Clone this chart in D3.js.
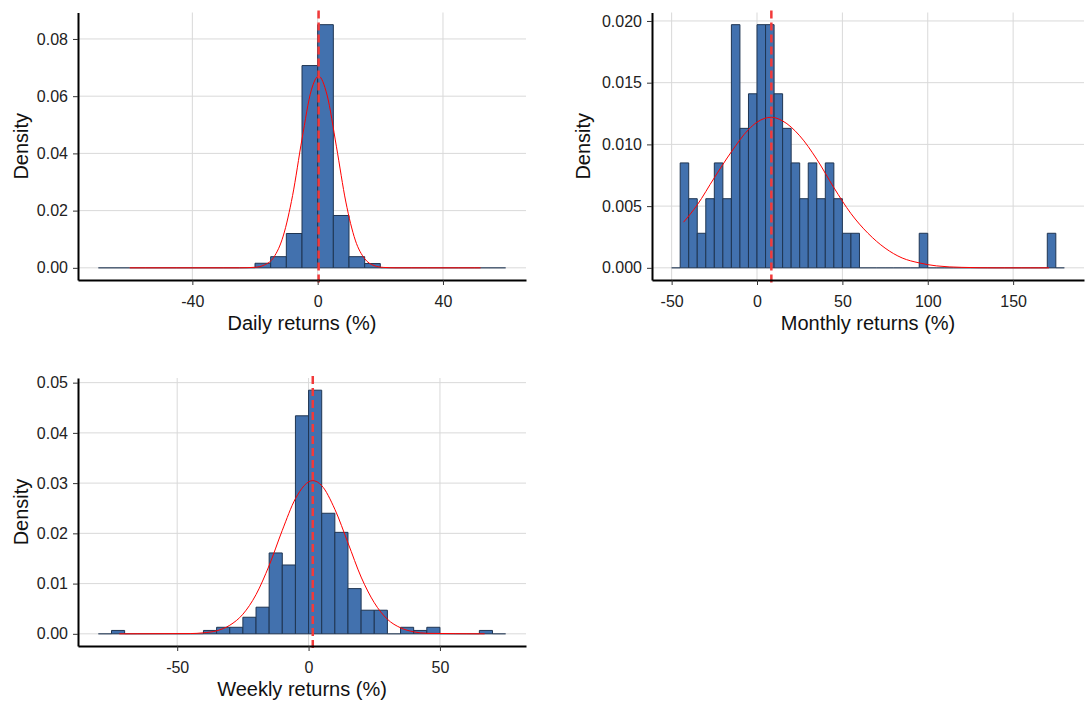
<!DOCTYPE html>
<html>
<head>
<meta charset="utf-8">
<script src="https://cdn.jsdelivr.net/npm/d3@7"></script>
<style>
body { margin: 0; background: #fff; }
text { font-family: "Liberation Sans", Arial, sans-serif; }
</style>
</head>
<body>
<div id="chart"></div>
<script>
var width = 1085
var height = 709
var binWidth = 5

// daily returns: histogram bins (left edge) and density
var dailyBins = [-70, -65, -60, -55, -50, -45, -40, -35, -30, -25, -20, -15, -10, -5, 0, 5, 10, 15, 20, 25, 30, 35, 40, 45, 50, 55]
var dailyDensity = [0, 0, 0, 0, 0, 0, 0, 0, 0, 0, 0.0016, 0.0039, 0.012, 0.0707, 0.085, 0.0183, 0.0039, 0.0015, 0, 0, 0, 0, 0, 0, 0, 0]
var dailyCurveX = [-60, -25, -20, -17, -14, -11, -8, -5, -2, 0.3, 3, 6, 9, 12, 15, 18, 21, 25, 52]
var dailyCurveY = [0, 0.00001, 0.0002, 0.001, 0.0037, 0.0111, 0.0253, 0.045, 0.0622, 0.067, 0.0604, 0.0423, 0.023, 0.0097, 0.0032, 0.0008, 0.00015, 0.00001, 0]
var dailyMean = 0.3

// monthly returns
var monthlyBins = [-50, -45, -40, -35, -30, -25, -20, -15, -10, -5, 0, 5, 10, 15, 20, 25, 30, 35, 40, 45, 50, 55, 60, 65, 70, 75, 80, 85, 90, 95, 100, 105, 110, 115, 120, 125, 130, 135, 140, 145, 150, 155, 160, 165, 170, 175]
var monthlyDensity = [0, 0.0085, 0.0056, 0.0028, 0.0056, 0.0085, 0.0056, 0.0197, 0.0113, 0.0141, 0.0197, 0.0197, 0.0141, 0.0113, 0.0085, 0.0056, 0.0085, 0.0056, 0.0085, 0.0056, 0.0028, 0.0028, 0, 0, 0, 0, 0, 0, 0, 0.0028, 0, 0, 0, 0, 0, 0, 0, 0, 0, 0, 0, 0, 0, 0, 0.0028, 0]
var monthlyCurveX = [-43, -35, -25, -15, -5, 0, 8.4, 15, 25, 35, 45, 55, 65, 75, 85, 95, 105, 120, 140, 171]
var monthlyCurveY = [0.0037, 0.0051, 0.0073, 0.0094, 0.0112, 0.0118, 0.0122, 0.0119, 0.0107, 0.0088, 0.0065, 0.0044, 0.0028, 0.0016, 0.0008, 0.0004, 0.00016, 0.00004, 0, 0]
var monthlyMean = 8.4

// weekly returns
var weeklyBins = [-80, -75, -70, -65, -60, -55, -50, -45, -40, -35, -30, -25, -20, -15, -10, -5, 0, 5, 10, 15, 20, 25, 30, 35, 40, 45, 50, 55, 60, 65, 70]
var weeklyDensity = [0, 0.00067, 0, 0, 0, 0, 0, 0, 0.00067, 0.0013, 0.0013, 0.0033, 0.0053, 0.0161, 0.0137, 0.0434, 0.0485, 0.024, 0.0202, 0.009, 0.0047, 0.0047, 0, 0.0013, 0.00067, 0.0013, 0, 0, 0, 0.00067, 0]
var weeklyCurveX = [-72, -45, -40, -35, -30, -25, -20, -15, -10, -5, 1.6, 5, 10, 15, 20, 25, 30, 35, 40, 45, 67]
var weeklyCurveY = [0, 0.00005, 0.0002, 0.0006, 0.0017, 0.0039, 0.0078, 0.0136, 0.0206, 0.0269, 0.0305, 0.0295, 0.0248, 0.0181, 0.0113, 0.0062, 0.0029, 0.0012, 0.0004, 0.0001, 0]
var weeklyMean = 1.6

var svg = d3.select("#chart").append("svg")
    .attr("width", width)
    .attr("height", height)

// plain hyphen for negative tick labels, like the original
var loc = d3.formatLocale({decimal: ".", thousands: ",", grouping: [3], currency: ["", ""], minus: "-"})

function drawPanel(p) {
    var xMin = p.bins[0], xMax = p.bins[p.bins.length - 1] + binWidth
    var xPad = (xMax - xMin) * 0.05
    var yMax = d3.max(p.density)
    var x = d3.scaleLinear().domain([xMin - xPad, xMax + xPad]).range([p.left, p.right])
    var y = d3.scaleLinear().domain([-yMax * 0.05, yMax * 1.05]).range([p.bottom, p.top])

    var g = svg.append("g")

    // grid
    g.selectAll(".gx").data(p.xTicks).join("line")
        .attr("x1", d => x(d)).attr("x2", d => x(d))
        .attr("y1", p.top).attr("y2", p.bottom)
        .attr("stroke", "#d9d9d9").attr("stroke-width", 1)
    g.selectAll(".gy").data(p.yTicks).join("line")
        .attr("x1", p.left).attr("x2", p.right)
        .attr("y1", d => y(d)).attr("y2", d => y(d))
        .attr("stroke", "#d9d9d9").attr("stroke-width", 1)

    // bars (zero height ones show as a flat line)
    g.selectAll(".bar").data(p.bins).join("path")
        .attr("d", (d, i) => "M" + x(d) + "," + y(0) + "V" + y(p.density[i]) + "H" + x(d + binWidth) + "V" + y(0) + "Z")
        .attr("fill", "#4271AE")
        .attr("stroke", "#1F3552")
        .attr("stroke-opacity", (d, i) => p.density[i] > 0 ? 1 : 0.7)
        .attr("stroke-width", 1)

    // normal curve
    var line = d3.line()
        .x(d => x(d[0]))
        .y(d => y(d[1]))
        .curve(d3.curveMonotoneX)
    g.append("path")
        .datum(d3.zip(p.curveX, p.curveY))
        .attr("d", line)
        .attr("fill", "none")
        .attr("stroke", "red")
        .attr("stroke-width", 1)

    // mean line
    g.append("line")
        .attr("x1", x(p.mean)).attr("x2", x(p.mean))
        .attr("y1", p.top - 2).attr("y2", p.bottom + 6)
        .attr("stroke", "#f23a3a")
        .attr("stroke-width", 2.5)
        .attr("stroke-dasharray", "8,4")

    // axes
    var ax = g.append("g")
        .attr("transform", "translate(0," + p.bottom + ")")
        .call(d3.axisBottom(x).tickValues(p.xTicks).tickFormat(loc.format("d")).tickSize(5).tickSizeOuter(0).tickPadding(11))
    var ay = g.append("g")
        .attr("transform", "translate(" + p.left + ",0)")
        .call(d3.axisLeft(y).tickValues(p.yTicks).tickFormat(loc.format(p.yFormat)).tickSize(5).tickSizeOuter(0).tickPadding(5))
    ;[ax, ay].forEach(a => {
        a.select(".domain").attr("stroke", "#000").attr("stroke-width", 2)
        a.selectAll(".tick line").attr("stroke", "#333")
        a.selectAll(".tick text").attr("fill", "#222").style("font-size", "16px")
            .style("font-family", '"Liberation Sans", Arial, sans-serif')
    })

    g.append("text")
        .attr("x", (p.left + p.right) / 2)
        .attr("y", p.bottom + 50)
        .attr("text-anchor", "middle")
        .attr("fill", "#111")
        .style("font-size", "20px")
        .text(p.xLabel)
    g.append("text")
        .attr("transform", "translate(" + p.yLabelX + "," + ((p.top + p.bottom) / 2) + ") rotate(-90)")
        .attr("text-anchor", "middle")
        .attr("fill", "#111")
        .style("font-size", "20px")
        .text("Density")
}

drawPanel({
    left: 78, right: 526, top: 12.5, bottom: 280, yLabelX: 28,
    bins: dailyBins, density: dailyDensity, curveX: dailyCurveX, curveY: dailyCurveY, mean: dailyMean,
    xTicks: [-40, 0, 40], yTicks: [0, 0.02, 0.04, 0.06, 0.08], yFormat: ".2f",
    xLabel: "Daily returns (%)"
})
drawPanel({
    left: 652, right: 1084, top: 12.5, bottom: 280, yLabelX: 590,
    bins: monthlyBins, density: monthlyDensity, curveX: monthlyCurveX, curveY: monthlyCurveY, mean: monthlyMean,
    xTicks: [-50, 0, 50, 100, 150], yTicks: [0, 0.005, 0.01, 0.015, 0.02], yFormat: ".3f",
    xLabel: "Monthly returns (%)"
})
drawPanel({
    left: 78, right: 526, top: 378, bottom: 646, yLabelX: 28,
    bins: weeklyBins, density: weeklyDensity, curveX: weeklyCurveX, curveY: weeklyCurveY, mean: weeklyMean,
    xTicks: [-50, 0, 50], yTicks: [0, 0.01, 0.02, 0.03, 0.04, 0.05], yFormat: ".2f",
    xLabel: "Weekly returns (%)"
})
</script>
</body>
</html>
